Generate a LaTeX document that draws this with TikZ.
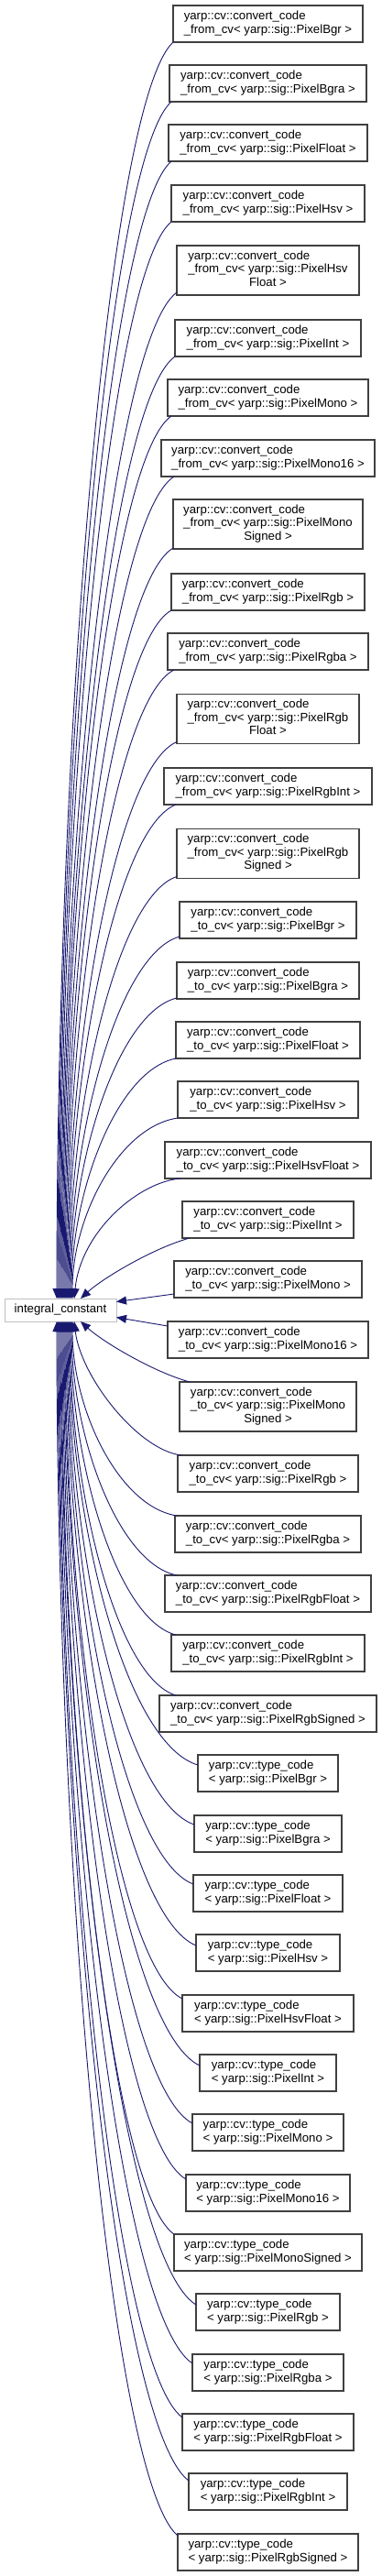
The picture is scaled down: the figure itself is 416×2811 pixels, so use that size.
\documentclass[tikz,border=0pt]{standalone}
\usepackage{fontspec}
\setmainfont{Liberation Sans}
\usetikzlibrary{calc,arrows.meta}
\definecolor{midnightblue}{HTML}{191970}
\definecolor{boxborder}{HTML}{404040}
\definecolor{icborder}{HTML}{BFBFBF}
\newcommand\twol[2]{\begin{tabular}{@{}l@{}}#1\\#2\end{tabular}}
\newcommand\threel[3]{\begin{tabular}{@{}l@{}}#1\\#2\\\multicolumn{1}{@{}c@{}}{#3}\end{tabular}}
\newcommand\cvcode{yarp::cv::convert\_code}
\newcommand\tycode{yarp::cv::type\_code}
\newcommand\inh[4]{\draw[edge] let \p1=($(#1)+(#2)$), \p2=($(#3)+(#4)$), \n1={\x1-\x2}, \n2={\y1-\y2} in (\p1) .. controls ($(\p1)+({-0.56*\n1},{-0.048*\n2})$) and ($(\p2)+({0},{0.45*\n2})$) .. (\p2);}
\begin{document}
\begin{tikzpicture}[x=1pt,y=1pt,
  box/.style={draw=boxborder, line width=1.3pt, fill=white, inner sep=0pt, outer sep=0pt,
    minimum height=40, text=black, font=\fontsize{13.2}{14.5}\selectfont},
  tall/.style={minimum height=54},
  icbox/.style={draw=icborder, line width=1pt, fill=white, inner sep=0pt, outer sep=0pt,
    minimum width=122, minimum height=25, text=black, font=\fontsize{13.2}{14.5}\selectfont},
  edge/.style={draw=midnightblue, line width=0.9pt, -{Triangle[length=11pt,width=9pt]}}]
\fill[white] (0,0) rectangle (416,-2811);
\useasboundingbox (0,0) rectangle (416,-2811);
% base class
\node[icbox] (ic) at (66,-1429.5) {integral\_constant};
% convert_code_from_cv
\node[box, minimum width=207] (b1) at (292.5,-26) {\twol{\cvcode}{\_from\_cv< yarp::sig::PixelBgr >}};
\node[box, minimum width=215] (b2) at (292.5,-91) {\twol{\cvcode}{\_from\_cv< yarp::sig::PixelBgra >}};
\node[box, minimum width=217] (b3) at (292.5,-156) {\twol{\cvcode}{\_from\_cv< yarp::sig::PixelFloat >}};
\node[box, minimum width=211] (b4) at (292.5,-222) {\twol{\cvcode}{\_from\_cv< yarp::sig::PixelHsv >}};
\node[box, tall, minimum width=199] (b5) at (292.5,-295) {\threel{\cvcode}{\_from\_cv< yarp::sig::PixelHsv}{Float >}};
\node[box, minimum width=203] (b6) at (292.5,-369) {\twol{\cvcode}{\_from\_cv< yarp::sig::PixelInt >}};
\node[box, minimum width=219] (b7) at (292.5,-434) {\twol{\cvcode}{\_from\_cv< yarp::sig::PixelMono >}};
\node[box, minimum width=233] (b8) at (292.5,-500) {\twol{\cvcode}{\_from\_cv< yarp::sig::PixelMono16 >}};
\node[box, tall, minimum width=207] (b9) at (292.5,-572) {\threel{\cvcode}{\_from\_cv< yarp::sig::PixelMono}{Signed >}};
\node[box, minimum width=211] (b10) at (292.5,-646) {\twol{\cvcode}{\_from\_cv< yarp::sig::PixelRgb >}};
\node[box, minimum width=219] (b11) at (292.5,-711) {\twol{\cvcode}{\_from\_cv< yarp::sig::PixelRgba >}};
\node[box, tall, minimum width=199] (b12) at (292.5,-784.5) {\threel{\cvcode}{\_from\_cv< yarp::sig::PixelRgb}{Float >}};
\node[box, minimum width=227] (b13) at (292.5,-858) {\twol{\cvcode}{\_from\_cv< yarp::sig::PixelRgbInt >}};
\node[box, tall, minimum width=199] (b14) at (292.5,-931.5) {\threel{\cvcode}{\_from\_cv< yarp::sig::PixelRgb}{Signed >}};
% convert_code_to_cv
\node[box, minimum width=193] (b15) at (292.5,-1004) {\twol{\cvcode}{\_to\_cv< yarp::sig::PixelBgr >}};
\node[box, minimum width=199] (b16) at (292.5,-1070) {\twol{\cvcode}{\_to\_cv< yarp::sig::PixelBgra >}};
\node[box, minimum width=201] (b17) at (292.5,-1135) {\twol{\cvcode}{\_to\_cv< yarp::sig::PixelFloat >}};
\node[box, minimum width=197] (b18) at (292.5,-1200) {\twol{\cvcode}{\_to\_cv< yarp::sig::PixelHsv >}};
\node[box, minimum width=225] (b19) at (292.5,-1266) {\twol{\cvcode}{\_to\_cv< yarp::sig::PixelHsvFloat >}};
\node[box, minimum width=187] (b20) at (292.5,-1331) {\twol{\cvcode}{\_to\_cv< yarp::sig::PixelInt >}};
\node[box, minimum width=205] (b21) at (292.5,-1396) {\twol{\cvcode}{\_to\_cv< yarp::sig::PixelMono >}};
\node[box, minimum width=219] (b22) at (292.5,-1462) {\twol{\cvcode}{\_to\_cv< yarp::sig::PixelMono16 >}};
\node[box, tall, minimum width=193] (b23) at (292.5,-1535) {\threel{\cvcode}{\_to\_cv< yarp::sig::PixelMono}{Signed >}};
\node[box, minimum width=197] (b24) at (292.5,-1608) {\twol{\cvcode}{\_to\_cv< yarp::sig::PixelRgb >}};
\node[box, minimum width=203] (b25) at (292.5,-1674) {\twol{\cvcode}{\_to\_cv< yarp::sig::PixelRgba >}};
\node[box, minimum width=225] (b26) at (292.5,-1739) {\twol{\cvcode}{\_to\_cv< yarp::sig::PixelRgbFloat >}};
\node[box, minimum width=211] (b27) at (292.5,-1804) {\twol{\cvcode}{\_to\_cv< yarp::sig::PixelRgbInt >}};
\node[box, minimum width=237] (b28) at (292.5,-1870) {\twol{\cvcode}{\_to\_cv< yarp::sig::PixelRgbSigned >}};
% type_code
\node[box, minimum width=153] (b29) at (292.5,-1935) {\twol{\tycode}{< yarp::sig::PixelBgr >}};
\node[box, minimum width=161] (b30) at (292.5,-2001) {\twol{\tycode}{< yarp::sig::PixelBgra >}};
\node[box, minimum width=163] (b31) at (292.5,-2066) {\twol{\tycode}{< yarp::sig::PixelFloat >}};
\node[box, minimum width=157] (b32) at (292.5,-2131) {\twol{\tycode}{< yarp::sig::PixelHsv >}};
\node[box, minimum width=187] (b33) at (292.5,-2197) {\twol{\tycode}{< yarp::sig::PixelHsvFloat >}};
\node[box, minimum width=149] (b34) at (292.5,-2262) {\twol{\tycode}{< yarp::sig::PixelInt >}};
\node[box, minimum width=165] (b35) at (292.5,-2327) {\twol{\tycode}{< yarp::sig::PixelMono >}};
\node[box, minimum width=179] (b36) at (292.5,-2393) {\twol{\tycode}{< yarp::sig::PixelMono16 >}};
\node[box, minimum width=205] (b37) at (292.5,-2458) {\twol{\tycode}{< yarp::sig::PixelMonoSigned >}};
\node[box, minimum width=157] (b38) at (292.5,-2523) {\twol{\tycode}{< yarp::sig::PixelRgb >}};
\node[box, minimum width=165] (b39) at (292.5,-2589) {\twol{\tycode}{< yarp::sig::PixelRgba >}};
\node[box, minimum width=187] (b40) at (292.5,-2654) {\twol{\tycode}{< yarp::sig::PixelRgbFloat >}};
\node[box, minimum width=173] (b41) at (292.5,-2719) {\twol{\tycode}{< yarp::sig::PixelRgbInt >}};
\node[box, minimum width=197] (b42) at (292.5,-2785) {\twol{\tycode}{< yarp::sig::PixelRgbSigned >}};
% edges to the top of the base class
\inh{b1.south west}{0,0}{ic.north west}{57,0}
\inh{b2.south west}{2,0}{ic.north west}{58,0}
\inh{b3.south west}{3,0}{ic.north west}{59,0}
\inh{b4.south west}{0,0}{ic.north west}{60,0}
\inh{b5.south west}{0,3}{ic.north west}{61,0}
\inh{b6.south west}{0,0}{ic.north west}{62,0}
\inh{b7.south west}{4,0}{ic.north west}{63,0}
\inh{b8.south west}{14,0}{ic.north west}{64,0}
\inh{b9.south west}{0,1}{ic.north west}{65,0}
\inh{b10.south west}{0,0}{ic.north west}{66,0}
\inh{b11.south west}{7,0}{ic.north west}{67,0}
\inh{b12.south west}{0,2}{ic.north west}{68,0}
\inh{b13.south west}{13,0}{ic.north west}{69,0}
\inh{b14.south west}{0,2}{ic.north west}{70,0}
\inh{b15.south west}{0,2}{ic.north west}{71,0}
\inh{b16.south west}{0,1}{ic.north west}{72,0}
\inh{b17.south west}{0,0}{ic.north west}{73,0}
\inh{b18.south west}{0,0}{ic.north west}{74,0}
\draw[edge] ($(b19.south west)+(17,0)$) .. controls +(-47,-4) and +(7,72) .. ($(ic.north west)+(76,0)$);
\draw[edge] ($(b20.south west)+(8,0)$) .. controls +(-40,-11) and +(24,22) .. ($(ic.north west)+(83,0)$);
% edges to the right side
\draw[edge] ($(b21.south west)+(0,4)$) -- ($(ic.east)+(0,9)$);
\draw[edge] ($(b22.north west)+(0,-5)$) -- ($(ic.east)+(0,-8)$);
% edges to the bottom
\draw[edge] ($(b23.north west)+(11,0)$) .. controls +(-40,11) and +(24,-22) .. ($(ic.south west)+(83,0)$);
\draw[edge] ($(b24.north west)+(4,0)$) .. controls +(-48,6) and +(7,-60) .. ($(ic.south west)+(76,0)$);
\inh{b25.north west}{2,0}{ic.south west}{74,0}
\inh{b26.north west}{13,0}{ic.south west}{73,0}
\inh{b27.north west}{5,0}{ic.south west}{72,0}
\inh{b28.north west}{18,0}{ic.south west}{71,0}
\inh{b29.north west}{0,-11}{ic.south west}{70,0}
\inh{b30.north west}{0,-10}{ic.south west}{69,0}
\inh{b31.north west}{0,-10}{ic.south west}{68,0}
\inh{b32.north west}{0,-12}{ic.south west}{67,0}
\inh{b33.north west}{0,-4}{ic.south west}{66,0}
\inh{b34.north west}{0,-12}{ic.south west}{65,0}
\inh{b35.north west}{0,-10}{ic.south west}{64,0}
\inh{b36.north west}{0,-5}{ic.south west}{63,0}
\inh{b37.north west}{0,0}{ic.south west}{62,0}
\inh{b38.north west}{0,-12}{ic.south west}{61,0}
\inh{b39.north west}{0,-10}{ic.south west}{60,0}
\inh{b40.north west}{0,-4}{ic.south west}{59,0}
\inh{b41.north west}{0,-8}{ic.south west}{58,0}
\inh{b42.north west}{0,-2}{ic.south west}{57,0}
\end{tikzpicture}
\end{document}
